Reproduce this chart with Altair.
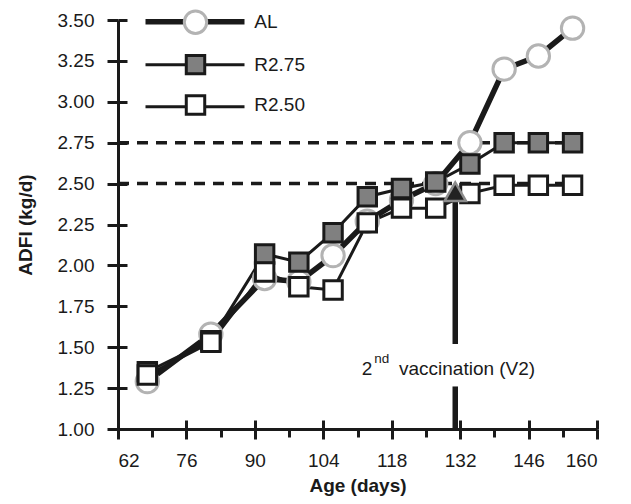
import altair as alt
import pandas as pd

# ---- data ----
days = [68, 81, 92, 99, 106, 113, 120, 127, 134, 141, 148, 155]
al = [1.29, 1.58, 1.92, 1.90, 2.06, 2.27, 2.40, 2.50, 2.75, 3.20, 3.28, 3.45]
r275 = [1.35, 1.54, 2.07, 2.02, 2.20, 2.42, 2.47, 2.51, 2.62, 2.75, 2.75, 2.75]
r250 = [1.33, 1.53, 1.96, 1.87, 1.85, 2.26, 2.35, 2.35, 2.44, 2.49, 2.49, 2.49]
series_names = ["AL", "R2.75", "R2.50"]

x_major = [62, 76, 90, 104, 118, 132, 146, 160]
x_minor = [69, 83, 97, 111, 125, 139, 153]
y_ticks = [1.00, 1.25, 1.50, 1.75, 2.00, 2.25, 2.50, 2.75, 3.00, 3.25, 3.50]

ref_levels = [2.75, 2.50]
ref_start = [62, 62]
ref_end = [155, 155]

v2_day = 131
v2_marker = 2.45
v2_seg_top = [2.45, 1.26]
v2_seg_bottom = [1.52, 1.00]
v2_label_y = 1.33

# ---- tables ----
rows = []
for name, vals in zip(series_names, [al, r275, r250]):
    for d, v in zip(days, vals):
        rows.append({"day": d, "adfi": v, "series": name, "series_l": name})
df = pd.DataFrame(rows)
df_ref = pd.DataFrame({"y": ref_levels, "x": ref_start, "x2": ref_end})
df_v2 = pd.DataFrame({"x": [v2_day] * 2, "y": v2_seg_top, "y2": v2_seg_bottom})
df_tri = pd.DataFrame({"x": [v2_day], "y": [v2_marker]})
df_txt = pd.DataFrame({"x": [v2_day], "y": [v2_label_y]})

FONT = "Liberation Sans"
INK = "#1a1a1a"
xs = alt.Scale(domain=[62, 160], nice=False, zero=False)
ys = alt.Scale(domain=[1.0, 3.5], nice=False, zero=False)

x_axis_main = alt.Axis(values=x_major, orient="bottom", tickSize=10, labelPadding=12,
                       title="Age (days)", titleY=62, titleBaseline="alphabetic",
                       domainWidth=3, tickWidth=3, labelFontSize=19, titleFontSize=19,
                       titleFontWeight="bold", grid=False)
y_axis_main = alt.Axis(values=y_ticks, format=".2f", orient="left", tickSize=11,
                       labelPadding=13, title="ADFI (kg/d)", titleX=-93,
                       titleBaseline="middle", domainWidth=3, tickWidth=3,
                       labelFontSize=19, titleFontSize=19, titleFontWeight="bold",
                       grid=False)
x_axis_inner = alt.Axis(values=x_major, orient="bottom", offset=-9, tickSize=9,
                        labels=False, domain=False, title=None, tickWidth=3, grid=False)
y_axis_inner = alt.Axis(values=y_ticks, orient="left", offset=-9, tickSize=9,
                        labels=False, domain=False, title=None, tickWidth=3, grid=False)
x_axis_minor = alt.Axis(values=x_minor, orient="bottom", tickSize=8,
                        labels=False, domain=False, title=None, tickWidth=3, grid=False)

pts_legend = alt.Legend(orient="none", legendX=64.5, legendY=-10.8, direction="vertical",
                        title=None, padding=0, labelOffset=45.8, rowPadding=8.4,
                        labelFontSize=19, labelFont=FONT, labelColor=INK,
                        symbolStrokeWidth=3, zindex=2)
line_legend = alt.Legend(orient="none", legendX=67.5, legendY=-7.8, direction="vertical",
                         title=None, padding=0, symbolType="M-8.25,0H-1.5M1.5,0H8.25",
                         symbolSize=144, rowPadding=22, labelOpacity=0, labelFontSize=19,
                         symbolStrokeColor=INK, zindex=1)

refs = alt.Chart(df_ref).mark_rule(strokeDash=[11, 8], strokeWidth=3.5, color=INK).encode(
    x=alt.X("x:Q", scale=xs, axis=x_axis_inner),
    x2="x2:Q",
    y=alt.Y("y:Q", scale=ys, axis=y_axis_inner),
)

lines = alt.Chart(df).mark_line(color=INK).encode(
    x=alt.X("day:Q", scale=xs, axis=x_axis_main),
    y=alt.Y("adfi:Q", scale=ys, axis=y_axis_main),
    strokeWidth=alt.StrokeWidth("series_l:N", sort=series_names,
                                scale=alt.Scale(type="ordinal", range=[5.5, 3, 3]),
                                legend=line_legend),
)

dom = series_names
pts = alt.Chart(df).mark_point(filled=True, opacity=1, strokeWidth=3).encode(
    x=alt.X("day:Q", scale=xs, axis=None),
    y=alt.Y("adfi:Q", scale=ys, axis=None),
    shape=alt.Shape("series:N", scale=alt.Scale(domain=dom, range=["circle", "square", "square"]), legend=pts_legend),
    fill=alt.Fill("series:N", scale=alt.Scale(domain=dom, range=["#ffffff", "#808080", "#ffffff"]), legend=pts_legend),
    stroke=alt.Stroke("series:N", scale=alt.Scale(domain=dom, range=["#b3b3b3", INK, INK]), legend=pts_legend),
    size=alt.Size("series:N", scale=alt.Scale(type="ordinal", domain=dom, range=[500, 340, 340]), legend=pts_legend),
)

v2 = alt.Chart(df_v2).mark_rule(strokeWidth=5.5, color=INK).encode(
    x=alt.X("x:Q", scale=xs, axis=x_axis_minor),
    y=alt.Y("y:Q", scale=ys, axis=None),
    y2="y2:Q",
)

tri = alt.Chart(df_tri).mark_point(shape="triangle-up", filled=True, fill="#222222",
                                   stroke="#8c8c8c", strokeWidth=2.5, size=460, opacity=1).encode(
    x=alt.X("x:Q", scale=xs, axis=None),
    y=alt.Y("y:Q", scale=ys, axis=None),
)

def txt(s, size, dx, dy=0):
    return alt.Chart(df_txt).mark_text(text=s, fontSize=size, font=FONT, color=INK,
                                       align="left", baseline="alphabetic", dx=dx, dy=dy).encode(
        x=alt.X("x:Q", scale=xs, axis=None),
        y=alt.Y("y:Q", scale=ys, axis=None),
    )

t1 = txt("2", 19, -93.6)
t2 = txt("nd", 13.5, -81, -12)
t3 = txt("vaccination (V2)", 19, -56.3)

chart = alt.layer(refs, lines, pts, v2, tri, t1, t2, t3).resolve_axis(
    x="independent", y="independent"
).properties(
    width=479, height=409, autosize="none",
    padding={"left": 110, "top": 12, "right": 26, "bottom": 67},
).configure_view(stroke=None).configure_axis(
    labelFont=FONT, titleFont=FONT, labelColor=INK, titleColor=INK,
    domainColor=INK, tickColor=INK, grid=False,
)

chart.save("out.html", embed_options={"renderer": "svg", "actions": False})
